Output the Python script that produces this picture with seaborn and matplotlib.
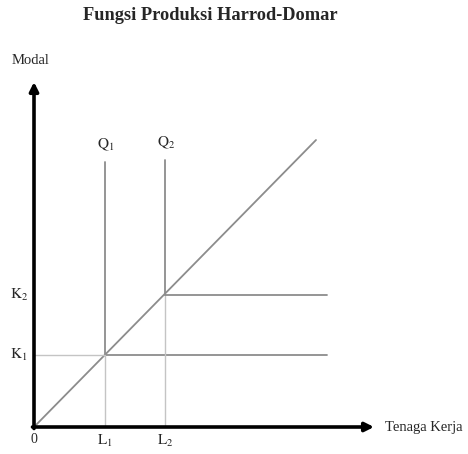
import matplotlib
matplotlib.use("Agg")
import matplotlib.pyplot as plt
import seaborn as sns
import pandas as pd

sns.set_theme(style="white")
plt.rcParams['font.family'] = ['Liberation Serif', 'DejaVu Serif']
plt.rcParams['mathtext.fontset'] = 'stix'

# Diagram values (data units, origin at 0)
labor_ticks = [71, 131]          # L1, L2
capital_ticks = [72, 132]        # K1, K2
tick_x_labels = ["$\\mathrm{L}_1$", "$\\mathrm{L}_2$"]
tick_y_labels = ["$\\mathrm{K}_1$", "$\\mathrm{K}_2$"]
q_labels = ["$\\mathrm{Q}_1$", "$\\mathrm{Q}_2$"]
q_tops = [265, 267]              # top of isoquant vertical arms
h_end = 293                      # right end of horizontal arms
ray_x = [0, 282]
ray_y = [0, 287]

fig = plt.figure(figsize=(4.68, 4.54), dpi=100)
ax = fig.add_axes([0, 0, 1, 1])
ax.set_xlim(-34, 434)
ax.set_ylim(-27, 427)
ax.axis("off")

line_col = "#8c8c8c"
light_col = "#c4c4c4"
kw = dict(ax=ax, sort=False, estimator=None)

# expansion path (ray)
sns.lineplot(x=ray_x, y=ray_y, color=line_col, lw=1.3, **kw)

# isoquants (L-shaped)
for i, (lx, ky, top) in enumerate(zip(labor_ticks, capital_ticks, q_tops)):
    sns.lineplot(x=[lx, lx], y=[ky, top], color=line_col, lw=1.3, **kw)
    sns.lineplot(x=[lx, lx], y=[0, ky], color=light_col, lw=1.0, **kw)
    sns.lineplot(x=[lx, h_end], y=[ky, ky], color=line_col, lw=1.3, **kw)
    ax.text(lx + 1, top + 9, q_labels[i], ha="center", va="bottom", fontsize=11)

# K1 dropline to axis
sns.lineplot(x=[0, labor_ticks[0]], y=[capital_ticks[0]] * 2,
             color=light_col, lw=1.0, **kw)

# axes with arrows
ax.annotate("", xy=(0, 345), xytext=(0, -1.5),
            arrowprops=dict(arrowstyle="-|>", lw=2.6, color="black",
                            mutation_scale=13, shrinkA=0, shrinkB=0))
ax.annotate("", xy=(340, 0), xytext=(-1.5, 0),
            arrowprops=dict(arrowstyle="-|>", lw=2.6, color="black",
                            mutation_scale=13, shrinkA=0, shrinkB=0))

# tick labels
ax.text(0, -6, "0", ha="center", va="top", fontsize=10)
for lx, lab in zip(labor_ticks, tick_x_labels):
    ax.text(lx, -6, lab, ha="center", va="top", fontsize=11)
for ky, lab in zip(capital_ticks, tick_y_labels):
    ax.text(-15, ky, lab, ha="center", va="center", fontsize=11)

ax.text(-22, 367, "Modal", ha="left", va="center", fontsize=10.5)
ax.text(351, 0, "Tenaga Kerja", ha="left", va="center", fontsize=10.5)
ax.text(176, 412, "Fungsi Produksi Harrod-Domar", ha="center", va="center",
        fontsize=13.2, fontweight="bold")

fig.savefig("out.png", dpi=100)
